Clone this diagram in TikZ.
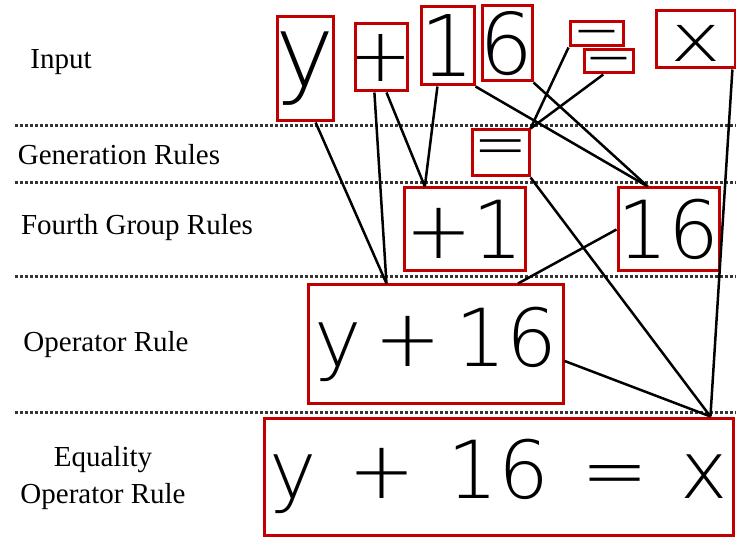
\documentclass[tikz,border=0pt]{standalone}
\usepackage{fontspec}
\setmainfont{Liberation Serif}
\newfontfamily\handfont{DejaVu Sans ExtraLight}
\newfontfamily\dashfont{DejaVu Sans Bold}
\usetikzlibrary{calc,positioning}
\definecolor{boxred}{RGB}{192,0,0}
\tikzset{
  glyphbox/.style={draw=boxred, line width=3pt, inner sep=-12pt, font=\handfont\fontsize{#1}{#1}\selectfont},
  glyphbox/.default=80,
  rowline/.style={line width=3pt, dash pattern=on 2.5pt off 2.5pt, black!80},
  link/.style={line width=2.5pt, black},
  rowlabel/.style={font=\fontsize{29}{37}\selectfont, align=center}
}
\newcommand{\dash}{{\dashfont\fontsize{22}{22}\selectfont\scalebox{2.6}[1]{−}}}

\begin{document}
\begin{tikzpicture}[x=1pt, y=-1pt]
\useasboundingbox (0,0) rectangle (736,537);
\fill[white] (0,0) rectangle (736,537);

% row names
\node[rowlabel] (lin) at (61,62) {Input};
\node[rowlabel] (lgen) at (119,155) {Generation Rules};
\node[rowlabel] (lfour) at (137,228) {Fourth Group Rules};
\node[rowlabel] (lop) at (106,345) {Operator Rule};
\node[rowlabel] (leq) at (103,478) {Equality\\Operator Rule};

% separators
\foreach \y in {126,183,277,412}
  \draw[rowline] (15,\y) -- (736,\y);

% input symbols
\node[glyphbox=100, minimum width=56, minimum height=104] (iy) at (305,69) {y};
\node[glyphbox=75, minimum width=52, minimum height=67] (iplus) at (381,57.5) {+};
\node[glyphbox=85, minimum width=53, minimum height=78] (ione) at (447.5,46) {1};
\node[glyphbox=85, minimum width=50, minimum height=75] (isix) at (507,43.5) {6};
\node[glyphbox, minimum width=53, minimum height=24] (ieqa) at (596.5,34) {\dash};
\node[glyphbox, minimum width=49, minimum height=23] (ieqb) at (608.5,61.5) {\dash};
\node[glyphbox=66, text height=44pt, minimum width=79, minimum height=57] (ix) at (695.5,39.5)
  {\scalebox{1.3}[1]{x}};

% generation and fourth group
\node[glyphbox=65, minimum width=57, minimum height=46] (geq) at (500.5,153) {=};
\node[glyphbox, minimum width=121, minimum height=83] (fone) at (464.5,229.5) {+1};
\node[glyphbox, minimum width=101, minimum height=83] (fsix) at (668.5,229.5) {16};

% operator and equality
\node[glyphbox, minimum width=255, minimum height=118] (op) at (435.5,344) {y\,+\,16};
\node[glyphbox, minimum width=469, minimum height=117] (eq) at (498.5,476.5)
  {y\hspace{.4em}+\hspace{.4em}16\hspace{.4em}=\hspace{.4em}x};

\coordinate (fonein) at ($(fone.north west)!.18!(fone.north east)$);
\coordinate (fsixin) at ($(fsix.north west)!.30!(fsix.north east)$);
\coordinate (opin) at ($(op.north west)!.31!(op.north east)$);
\coordinate (opsix) at ($(op.north west)!.82!(op.north east)$);
\coordinate (opout) at ($(op.north east)!.64!(op.south east)$);
\coordinate (eqin) at ($(eq.north west)!.949!(eq.north east)$);

\draw[link] ($(iy.south west)!.68!(iy.south east)$) -- (opin);
\draw[link] ($(iplus.south west)!.38!(iplus.south east)$) -- (opin);
\draw[link] ($(iplus.south west)!.6!(iplus.south east)$) -- (fonein);
\draw[link] ($(ione.south west)!.32!(ione.south east)$) -- (fonein);
\draw[link] (ione.south east) -- (fsixin);
\draw[link] (isix.south east) -- (fsixin);
\draw[link] (ieqa.south west) -- (geq.north east);
\draw[link] ($(ieqb.south west)!.4!(ieqb.south east)$) -- (geq.north east);
\draw[link] (fsix.west) -- (opsix);
\draw[link] ($(ix.south west)!.95!(ix.south east)$) -- (eqin);
\draw[link] (geq.south east) -- (eqin);
\draw[link] (opout) -- (eqin);
\end{tikzpicture}
\end{document}
